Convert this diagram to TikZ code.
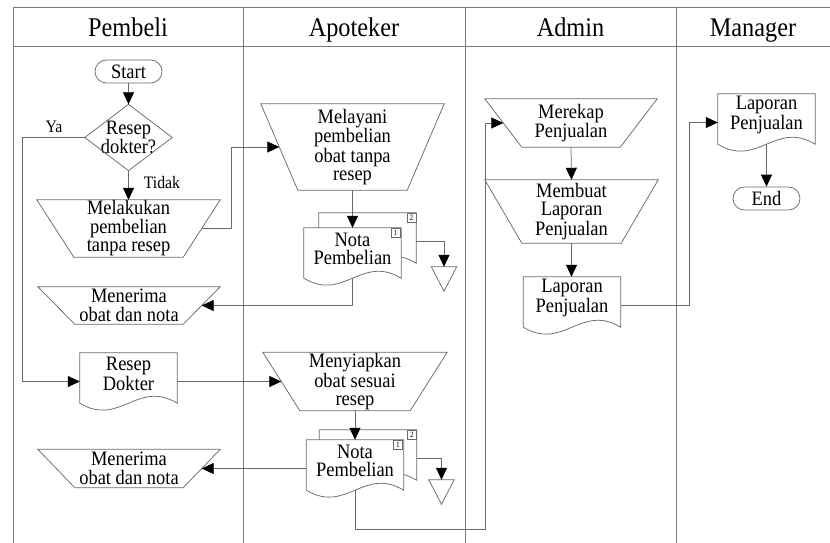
\documentclass[tikz,border=0pt]{standalone}
\usepackage{fontspec}
\setmainfont{Liberation Serif}[FakeStretch=0.9]
\usetikzlibrary{arrows.meta,shapes.misc,calc}
\definecolor{lncol}{HTML}{6A6A6A}
\definecolor{lanecol}{HTML}{7A7A7A}

\tikzset{
  ln/.style={draw=lncol, line width=0.75pt},
  arr/.style={ln, -{Triangle[length=12pt,width=11pt,color=black]}},
  box/.style={rectangle, inner sep=0pt, draw=none},
  txt/.style={align=center, font=\fontsize{20.5}{18.5}\selectfont, inner sep=0pt},
  term/.style={rounded rectangle, ln, txt, minimum width=67pt, minimum height=23pt},
  lane/.style={draw=lanecol, line width=0.75pt},
  head/.style={font=\fontsize{27}{27}\selectfont, inner sep=0pt, anchor=base},
  lbl/.style={font=\fontsize{17.5}{17.5}\selectfont, inner sep=0pt},
  numbox/.style={draw=lncol, line width=0.5pt, fill=white, minimum size=9pt,
    inner sep=0pt, font=\fontsize{8}{8}\selectfont},
  docbox/.style={box, minimum width=97pt, minimum height=57pt},
  tribox/.style={box, minimum width=25pt, minimum height=24pt},
}

% manual-operation outline (wide top, narrow bottom) around a named node,
% plus points in the middle of its slanted sides
\newcommand\trapout[1]{%
  \draw[ln] (#1.north west) -- (#1.north east) -- ([xshift=-37pt]#1.south east)
    -- ([xshift=37pt]#1.south west) -- cycle;
  \coordinate (#1-l) at ([xshift=18.5pt]#1.west);
  \coordinate (#1-r) at ([xshift=-18.5pt]#1.east);}

% document outline with a wavy lower edge
\newcommand\docout[1]{%
  \draw[ln, fill=white] (#1.north west) -- (#1.north east) -- ([yshift=7pt]#1.south east)
    .. controls ([xshift=-40pt,yshift=31pt]#1.south east) and ([xshift=40pt,yshift=-17pt]#1.south west)
    .. ([yshift=7pt]#1.south west) -- cycle;}

% off-line storage triangle
\newcommand\triout[1]{%
  \draw[ln] (#1.north west) -- (#1.north east) -- (#1.south) -- cycle;}

\begin{document}
\begin{tikzpicture}[x=1pt,y=-1pt]
\useasboundingbox (0,0) rectangle (830,543);

% swimlanes
\draw[lane] (13,543) -- (13,7) -- (830,7);
\draw[lane] (13,46.5) -- (830,46.5);
\draw[lane] (243,7) -- (243,543);
\draw[lane] (465.5,7) -- (465.5,543);
\draw[lane] (676.5,7) -- (676.5,543);

\node[head] (hpembeli) at (128,37) {Pembeli};
\node[head] (hapoteker) at (354,37) {Apoteker};
\node[head] (hadmin) at (570.5,37) {Admin};
\node[head] (hmanager) at (753,37) {Manager};

% ---- Pembeli ----
\node[term] (start) at (128.5,71.5) {Start};
\node[box, txt, minimum width=87pt, minimum height=66pt] (dec) at (128.5,137.5) {Resep\\dokter?};
\draw[ln] (dec.north) -- (dec.east) -- (dec.south) -- (dec.west) -- cycle;

\node[box, txt, minimum width=183pt, minimum height=57pt] (melakukan) at (128.5,228.5)
  {Melakukan\\pembelian\\tanpa resep};
\trapout{melakukan}

\node[box, txt, minimum width=182pt, minimum height=37pt] (terima1) at (129,305.5)
  {Menerima\\obat dan nota};
\trapout{terima1}

\node[docbox] (resep) at (128.5,381.5) {};
\docout{resep}
\node[txt] (resep-t) at ([yshift=7.5pt]resep.center) {Resep\\Dokter};

\node[box, txt, minimum width=182pt, minimum height=38pt] (terima2) at (129,468.5)
  {Menerima\\obat dan nota};
\trapout{terima2}

\node[lbl] (ya) at (54,127) {Ya};
\node[lbl] (tidak) at (162,183) {Tidak};

% ---- Apoteker ----
\node[box, txt, minimum width=183pt, minimum height=86pt] (melayani) at (352.5,147)
  {Melayani\\pembelian\\obat tanpa\\resep};
\trapout{melayani}

\node[docbox] (nota1b) at (367.5,241.5) {};
\docout{nota1b}
\node[numbox, anchor=north east] (nota1b-n) at (nota1b.north east) {2};
\node[docbox] (nota1) at (352.5,256.5) {};
\docout{nota1}
\node[numbox, anchor=north east] (nota1-n) at ([xshift=-1pt]nota1.north east) {1};
\node[txt] (nota1-t) at ([yshift=7.5pt]nota1.center) {Nota\\Pembelian};
\node[tribox] (tri1) at (444,279) {};
\triout{tri1}

\node[box, txt, minimum width=184pt, minimum height=58pt] (siap) at (355,381.5)
  {Menyiapkan\\obat sesuai\\resep};
\trapout{siap}

\node[docbox] (nota2b) at (368,458.5) {};
\docout{nota2b}
\node[numbox, anchor=north east] (nota2b-n) at (nota2b.north east) {2};
\node[docbox] (nota2) at (355,468.5) {};
\docout{nota2}
\node[numbox, anchor=north east] (nota2-n) at ([xshift=-1pt]nota2.north east) {1};
\node[txt] (nota2-t) at ([yshift=7.5pt]nota2.center) {Nota\\Pembelian};
\node[tribox] (tri2) at (441.5,492) {};
\triout{tri2}

% ---- Admin ----
\node[box, txt, minimum width=172pt, minimum height=48pt] (rekap) at (571,123)
  {Merekap\\Penjualan};
\trapout{rekap}

\node[box, txt, minimum width=173pt, minimum height=63pt] (buat) at (571.5,211.5)
  {Membuat\\Laporan\\Penjualan};
\trapout{buat}

\node[docbox] (lap1) at (572,305.5) {};
\docout{lap1}
\node[txt] (lap1-t) at ([yshift=7.5pt]lap1.center) {Laporan\\Penjualan};

% ---- Manager ----
\node[docbox] (lap2) at (766.5,122.5) {};
\docout{lap2}
\node[txt] (lap2-t) at ([yshift=7.5pt]lap2.center) {Laporan\\Penjualan};
\node[term] (end) at (766.5,198.5) {End};

% ---- connectors ----
\coordinate (loop) at (485,529);
\draw[arr] (start.south) -- (dec.north);
\draw[arr] (dec.south) -- (melakukan.north);
\draw[arr] (dec.west) -- ++(-62,0) |- (resep.west);
\draw[arr] (melakukan-r) -- ++(29.5,0) |- (melayani-l);
\draw[arr] (melayani.south) -- (melayani.south |- nota1.north);
\draw[arr] (nota1b.east) -| (tri1.north);
\draw[arr] ([yshift=7pt]nota1.south) |- (terima1-r);
\draw[arr] (resep.east) -- (resep.east -| siap-l);
\draw[arr] (siap.south) -- (siap.south |- nota2.north);
\draw[arr] (nota2b.east) -| (tri2.north);
\draw[arr] (nota2.west) -- (nota2.west -| terima2-r);
\draw[arr] ([yshift=7pt]nota2.south) |- (loop) |- (rekap-l);
\draw[arr] (rekap.south) -- (buat.north);
\draw[arr] (buat.south) -- (buat.south |- lap1.north);
\draw[arr] (lap1.east) -- ++(69,0) |- (lap2.west);
\draw[arr] ([yshift=7pt]lap2.south) -- (end.north);
\end{tikzpicture}
\end{document}
